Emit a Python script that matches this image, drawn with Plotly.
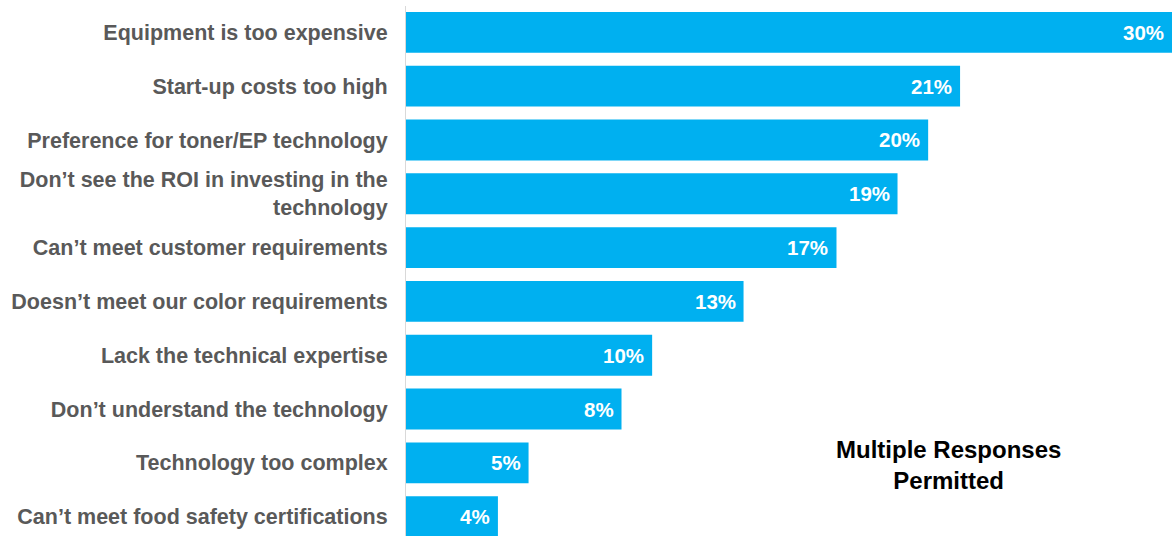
import plotly.graph_objects as go

categories = [
    "Equipment is too expensive",
    "Start-up costs too high",
    "Preference for toner/EP technology",
    "Don’t see the ROI in investing in the<br>technology",
    "Can’t meet customer requirements",
    "Doesn’t meet our color requirements",
    "Lack the technical expertise",
    "Don’t understand the technology",
    "Technology too complex",
    "Can’t meet food safety certifications",
]
values = [30.0, 21.7, 20.45, 19.25, 16.86, 13.22, 9.64, 8.44, 4.8, 3.6]
value_labels = ["30%", "21%", "20%", "19%", "17%", "13%", "10%", "8%", "5%", "4%"]
note_text = "Multiple Responses<br>Permitted"

BAR_COLOR = "#00b0f0"
FONT = "Liberation Sans, Arial, sans-serif"

fig = go.Figure()
fig.add_trace(go.Bar(
    x=values,
    y=categories,
    orientation="h",
    marker=dict(color=BAR_COLOR, line=dict(width=0)),
    width=0.76,
    hoverinfo="skip",
))

for v, c, t in zip(values, categories, value_labels):
    fig.add_annotation(
        x=v, y=c, xref="x", yref="y", text=t, showarrow=False,
        xanchor="right", yanchor="middle", xshift=-6,
        font=dict(family=FONT, size=20.5, color="white", weight="bold"),
    )

fig.add_annotation(
    x=0.7076, y=0.134, xref="paper", yref="paper", text=note_text,
    showarrow=False, xanchor="center", yanchor="middle", align="center",
    font=dict(family=FONT, size=24, color="black", weight="bold"),
)

fig.update_layout(
    width=1172, height=536,
    margin=dict(l=406, r=0, t=6, b=0, autoexpand=False),
    paper_bgcolor="white", plot_bgcolor="white",
    showlegend=False,
    bargap=0.24,
    xaxis=dict(range=[0, 30.0], visible=False, showgrid=False, zeroline=False, fixedrange=True),
    yaxis=dict(
        type="category",
        categoryorder="array", categoryarray=categories,
        range=[9.36, -0.49],
        showgrid=False, zeroline=False,
        showline=True, linecolor="#d9d9d9", linewidth=1,
        ticks="", ticklabelstandoff=13,
        tickfont=dict(family=FONT, size=21.5, color="#595959", weight="bold"),
        automargin=False,
    ),
)

fig.write_html("out.html")
